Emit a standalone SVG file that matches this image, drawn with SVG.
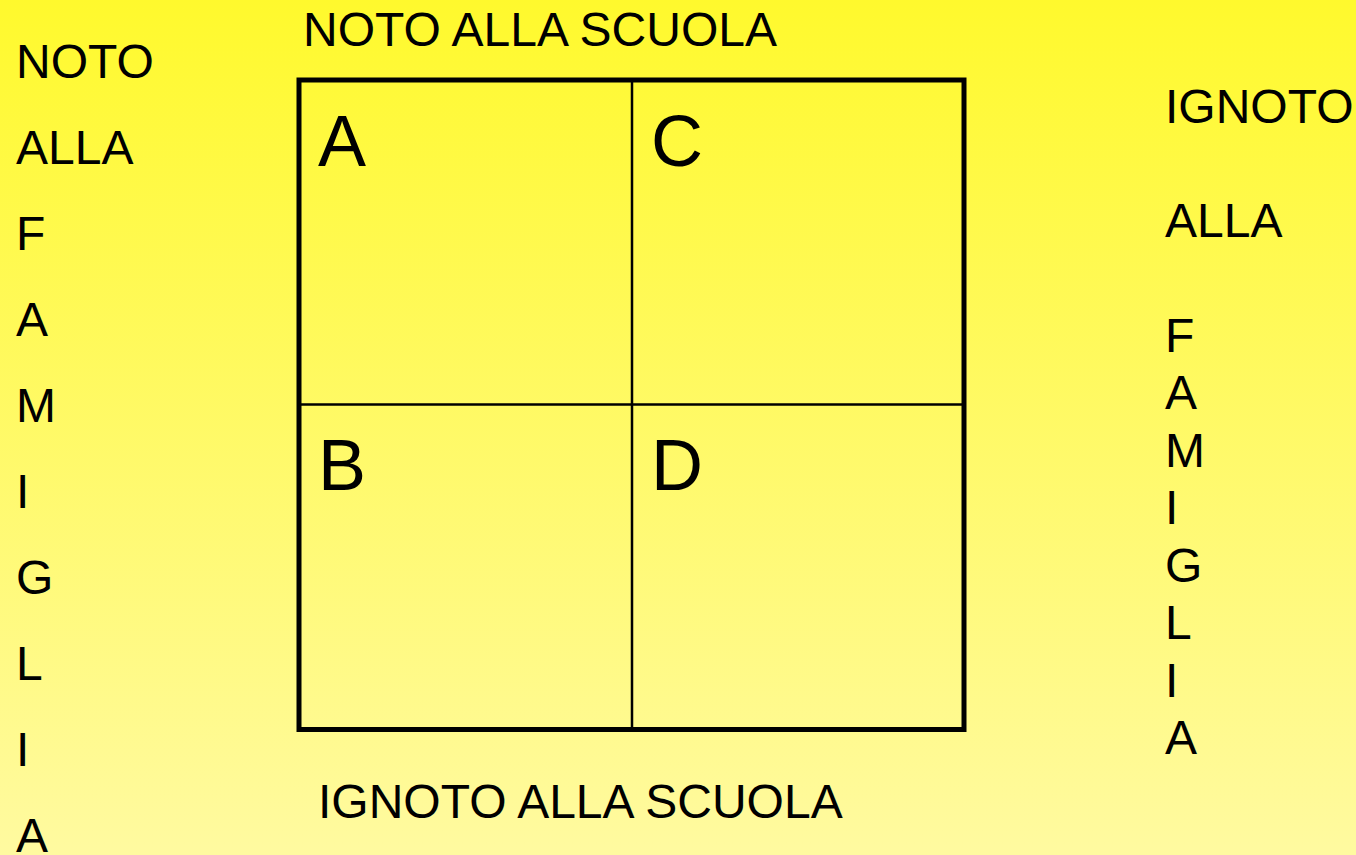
<svg xmlns="http://www.w3.org/2000/svg" width="1356" height="855" viewBox="0 0 1356 855">
<defs>
<linearGradient id="bg" x1="0" y1="0" x2="0" y2="1">
<stop offset="0" stop-color="#FFF92D"/>
<stop offset="1" stop-color="#FFFAA0"/>
</linearGradient>
<style>
text{font-family:"Liberation Sans",Arial,sans-serif;fill:#000}
.t{font-size:48px}
.big{font-size:72px}
.frame{fill:none;stroke:#000;stroke-width:5}
.div{stroke:#000;stroke-width:2.5}
</style>
</defs>
<rect x="0" y="0" width="1356" height="855" fill="url(#bg)"/>
<g id="grid">
<rect class="frame" x="299" y="80" width="665" height="649.5"/>
<line class="div" x1="632" y1="80" x2="632" y2="729.5"/>
<line class="div" x1="299" y1="404.5" x2="964" y2="404.5"/>
</g>
<g id="cellA"><text class="big" x="318" y="166">A</text></g>
<g id="cellC"><text class="big" x="651" y="166">C</text></g>
<g id="cellB"><text class="big" x="318" y="490">B</text></g>
<g id="cellD"><text class="big" x="651" y="490">D</text></g>
<g id="top-label"><text class="t" x="303" y="46">NOTO ALLA SCUOLA</text></g>
<g id="bottom-label"><text class="t" x="318" y="818">IGNOTO ALLA SCUOLA</text></g>
<g id="left-label" class="t">
<text class="t" x="16" y="78">NOTO</text>
<text class="t" x="16" y="164">ALLA</text>
<text class="t" x="16" y="250">F</text>
<text class="t" x="16" y="336">A</text>
<text class="t" x="16" y="422">M</text>
<text class="t" x="16" y="508">I</text>
<text class="t" x="16" y="594">G</text>
<text class="t" x="16" y="680">L</text>
<text class="t" x="16" y="766">I</text>
<text class="t" x="16" y="852">A</text>
</g>
<g id="right-label">
<text class="t" x="1165" y="123">IGNOTO</text>
<text class="t" x="1165" y="237">ALLA</text>
<text class="t" x="1165" y="352">F</text>
<text class="t" x="1165" y="409">A</text>
<text class="t" x="1165" y="467">M</text>
<text class="t" x="1165" y="524">I</text>
<text class="t" x="1165" y="582">G</text>
<text class="t" x="1165" y="639">L</text>
<text class="t" x="1165" y="697">I</text>
<text class="t" x="1165" y="754">A</text>
</g>
</svg>
